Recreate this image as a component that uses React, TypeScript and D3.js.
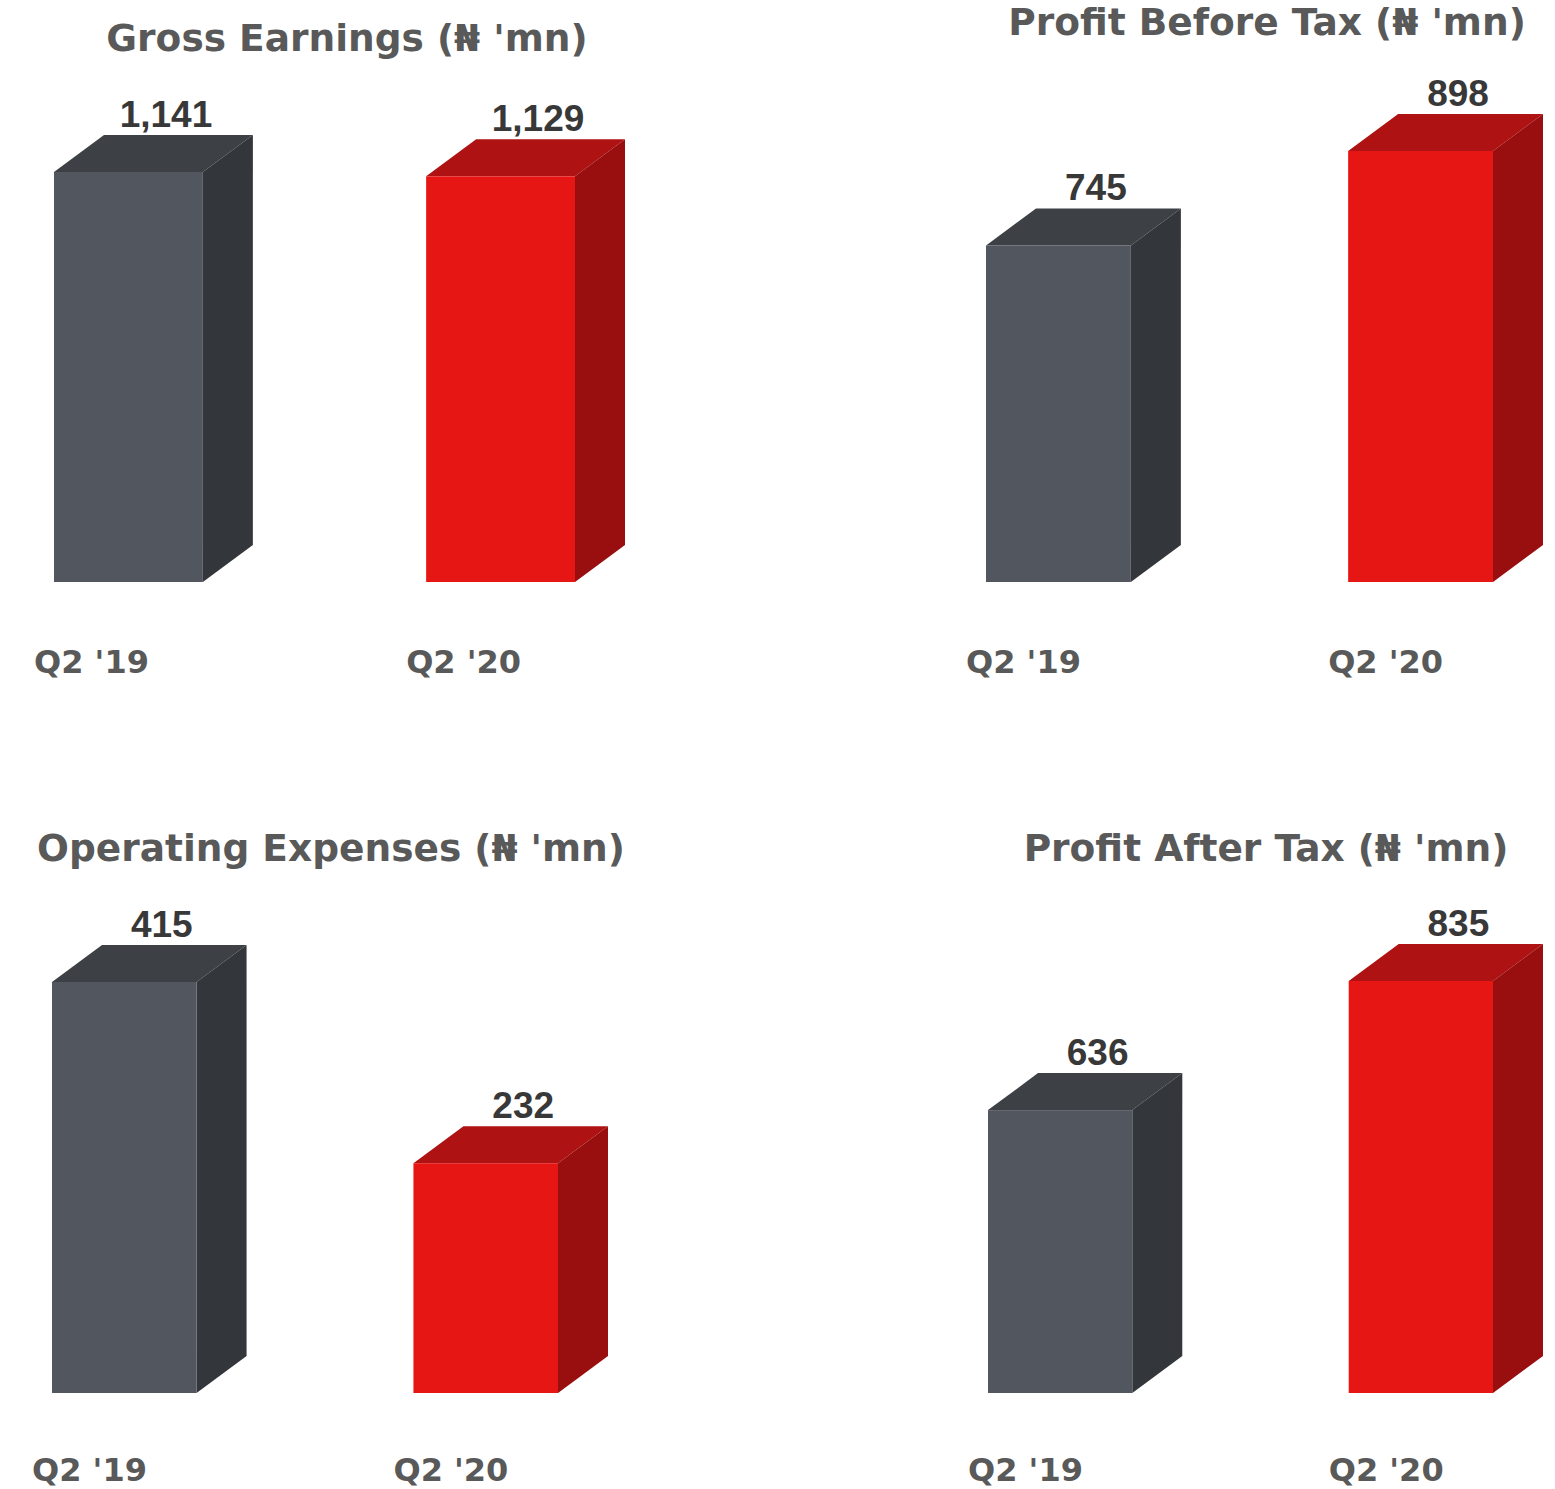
import React from "react";
import * as d3 from "d3";

const categories = ["Q2 '19", "Q2 '20"];
const titles = [
  "Gross Earnings (₦ 'mn)",
  "Profit Before Tax (₦ 'mn)",
  "Operating Expenses (₦ 'mn)",
  "Profit After Tax (₦ 'mn)",
];
const grossEarnings = [1141, 1129];
const profitBeforeTax = [745, 898];
const operatingExpenses = [415, 232];
const profitAfterTax = [636, 835];
const axisMins = [0, 200, 0, 200];

const panelValues = [grossEarnings, profitBeforeTax, operatingExpenses, profitAfterTax];

// layout (pixel geometry of each panel)
const layouts = [
  { x0: 54, x1: 575, bottom: 582, top: 172, titleX: 347, titleY: 51, labelY: 673 },
  { x0: 986, x1: 1493, bottom: 582, top: 151, titleX: 1267, titleY: 35, labelY: 673 },
  { x0: 52, x1: 558, bottom: 1393, top: 982, titleX: 331, titleY: 861, labelY: 1481 },
  { x0: 988, x1: 1493, bottom: 1393, top: 981, titleX: 1266, titleY: 861, labelY: 1481 },
];

const DX = 50;
const DY = 37;
const palette = [
  { front: "#52565e", top: "#3d4045", side: "#33363b" },
  { front: "#e61614", top: "#ae1212", side: "#990e0e" },
];

const fmt = d3.format(",");

function Panel({ idx }: { idx: number }) {
  const L = layouts[idx];
  const vals = panelValues[idx];
  const x = d3.scaleBand<string>().domain(categories).range([L.x0, L.x1]).paddingInner(0.6).paddingOuter(0);
  const y = d3.scaleLinear().domain([axisMins[idx], d3.max(vals) as number]).range([L.bottom, L.top]);
  const bw = x.bandwidth();
  return (
    <g>
      <text
        x={L.titleX}
        y={L.titleY}
        textAnchor="middle"
        fontFamily="DejaVu Sans"
        fontWeight="bold"
        fontSize={37.5}
        fill="#595959"
      >
        {titles[idx]}
      </text>
      {categories.map((c, i) => {
        const bx = x(c) as number;
        const by = y(vals[i]);
        const b = L.bottom;
        const col = palette[i];
        const topPath = d3.path();
        topPath.moveTo(bx, by);
        topPath.lineTo(bx + DX, by - DY);
        topPath.lineTo(bx + bw + DX, by - DY);
        topPath.lineTo(bx + bw, by);
        topPath.closePath();
        const sidePath = d3.path();
        sidePath.moveTo(bx + bw, by);
        sidePath.lineTo(bx + bw + DX, by - DY);
        sidePath.lineTo(bx + bw + DX, b - DY);
        sidePath.lineTo(bx + bw, b);
        sidePath.closePath();
        return (
          <g key={c}>
            <path d={topPath.toString()} fill={col.top} />
            <path d={sidePath.toString()} fill={col.side} />
            <rect x={bx} y={by} width={bw} height={b - by} fill={col.front} />
            <text
              x={bx + bw / 2 + DX * 0.75}
              y={by - DY - 8}
              textAnchor="middle"
              fontFamily="Liberation Sans"
              fontWeight="bold"
              fontSize={37}
              fill="#383838"
            >
              {fmt(vals[i])}
            </text>
            <text
              x={bx - 20}
              y={L.labelY}
              textAnchor="start"
              fontFamily="DejaVu Sans"
              fontWeight="bold"
              fontSize={32}
              fill="#595959"
            >
              {c}
            </text>
          </g>
        );
      })}
    </g>
  );
}

export default function App() {
  return (
    <svg width={1555} height={1489} style={{ position: "absolute", left: 0, top: 0, background: "#fff" }}>
      <rect width={1555} height={1489} fill="#fff" />
      {[0, 1, 2, 3].map((i) => (
        <Panel key={i} idx={i} />
      ))}
    </svg>
  );
}
